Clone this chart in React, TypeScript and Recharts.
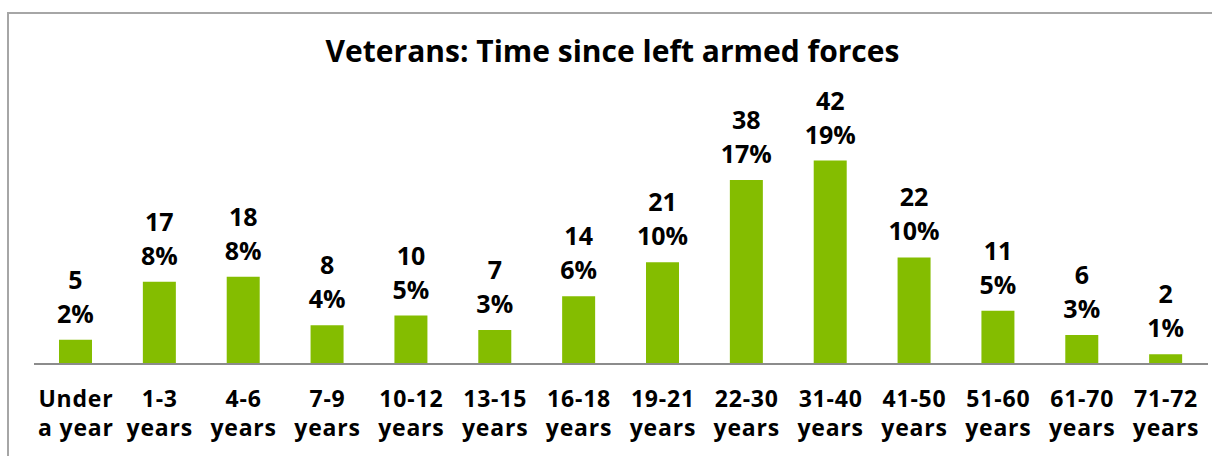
import React from "react";
import { BarChart, Bar, XAxis, YAxis, LabelList } from "recharts";

const categories = [
  "Under a year",
  "1-3 years",
  "4-6 years",
  "7-9 years",
  "10-12 years",
  "13-15 years",
  "16-18 years",
  "19-21 years",
  "22-30 years",
  "31-40 years",
  "41-50 years",
  "51-60 years",
  "61-70 years",
  "71-72 years",
];
const counts = [5, 17, 18, 8, 10, 7, 14, 21, 38, 42, 22, 11, 6, 2];
const percents = ["2%", "8%", "8%", "4%", "5%", "3%", "6%", "10%", "17%", "19%", "10%", "5%", "3%", "1%"];
const title = "Veterans: Time since left armed forces";

const data = categories.map((c, i) => ({ name: c, count: counts[i], pct: percents[i] }));

const FONT = "'Open Sans', sans-serif";
const GREEN = "#84BD00";

const Tick = (props: any) => {
  const { x, y, payload } = props;
  const s: string = payload.value;
  const idx = s.indexOf(" ");
  const l1 = s.slice(0, idx);
  const l2 = s.slice(idx + 1);
  return (
    <text x={x} y={y} textAnchor="middle" fontFamily={FONT} fontWeight={700} fontSize={23} letterSpacing={0.8} fill="#000">
      <tspan x={x} dy={35}>{l1}</tspan>
      <tspan x={x} dy={29}>{l2}</tspan>
    </text>
  );
};

const countLabel = (p: any) => (
  <text x={p.x + p.width / 2} y={p.y - 51} textAnchor="middle" fontFamily={FONT} fontWeight={700} fontSize={25} fill="#000">
    {p.value}
  </text>
);
const pctLabel = (p: any) => (
  <text x={p.x + p.width / 2} y={p.y - 17} textAnchor="middle" fontFamily={FONT} fontWeight={700} fontSize={25} fill="#000">
    {p.value}
  </text>
);

export default function App() {
  return (
    <div style={{ position: "fixed", left: 0, top: 0, width: 1212, height: 456, overflow: "hidden", background: "#fff" }}>
      <div
        style={{
          position: "absolute",
          left: 7,
          top: 12,
          width: 1230,
          height: 470,
          border: "2px solid #a6a6a6",
          boxSizing: "border-box",
        }}
      />
      <svg style={{ position: "absolute", left: 0, top: 0 }} width={1212} height={456}>
        <text x={612.5} y={62} textAnchor="middle" fontFamily={FONT} fontWeight={700} fontSize={30} fill="#000">
          {title}
        </text>
      </svg>
      <div style={{ position: "absolute", left: 0, top: 0 }}>
        <BarChart width={1212} height={456} data={data} margin={{ top: 146, right: 4, bottom: 0, left: 34 }}>
          <YAxis hide domain={[0, 45]} />
          <XAxis
            dataKey="name"
            height={92}
            interval={0}
            tickLine={false}
            axisLine={{ stroke: "#8c8c8c", strokeWidth: 2 }}
            tick={<Tick />}
          />
          <Bar dataKey="count" fill={GREEN} barSize={33} isAnimationActive={false}>
            <LabelList dataKey="count" content={countLabel} />
            <LabelList dataKey="pct" content={pctLabel} />
          </Bar>
        </BarChart>
      </div>
    </div>
  );
}
